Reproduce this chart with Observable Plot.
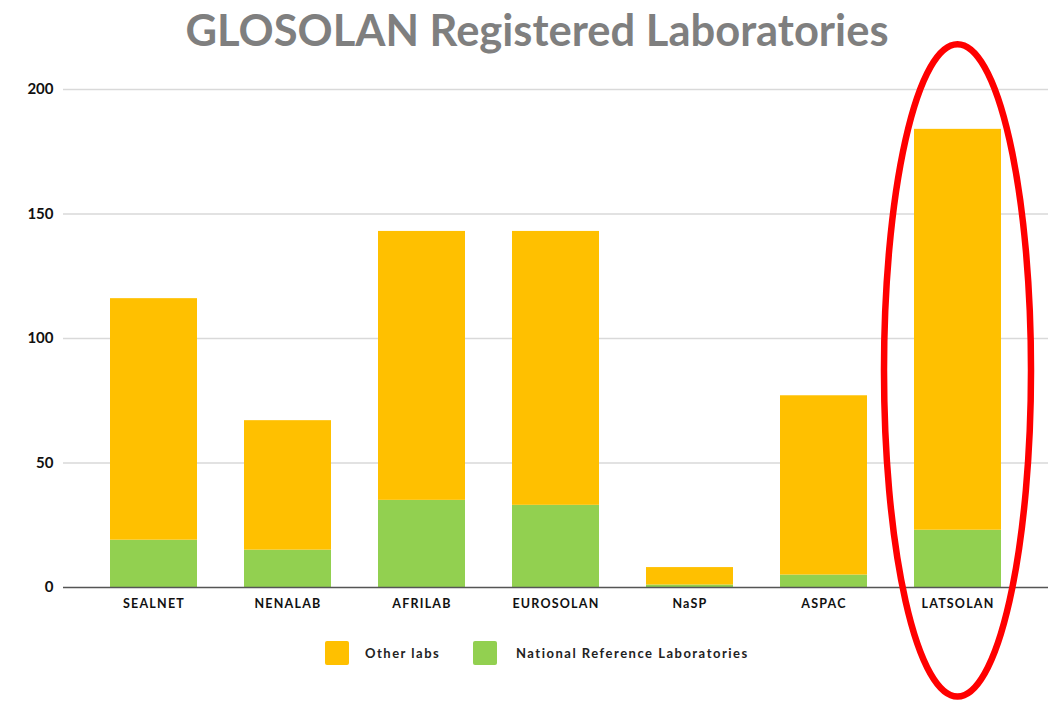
<!DOCTYPE html>
<html>
<head>
<meta charset="utf-8">
<script src="https://cdn.jsdelivr.net/npm/d3@7"></script>
<script src="https://cdn.jsdelivr.net/npm/@observablehq/plot@0.6"></script>
<style>
  html, body { margin: 0; padding: 0; background: #fff; }
  body { width: 1061px; height: 704px; overflow: hidden; font-family: Lato, "Open Sans", sans-serif; }
  #title { height: 60px; position: relative; }
  #title span { position: absolute; left: 537px; top: 3px; transform: translateX(-50%); white-space: nowrap;
    font-family: Lato, sans-serif; font-weight: 700; font-size: 43.5px; color: #7f7f7f; }
  #legend { height: 74px; position: relative; font-family: Lato, sans-serif; font-size: 13px; font-weight: 700; color: #222; letter-spacing: 1.5px; }
  .sw { position: absolute; top: 11px; width: 24px; height: 24px; border-radius: 2px; }
  .lt { position: absolute; top: 15px; white-space: nowrap; }
  #chart svg { overflow: visible; }
  #chart svg g[aria-label="x-axis tick label"] text { letter-spacing: 1.2px; }
</style>
</head>
<body>
<div id="title"><span>GLOSOLAN Registered Laboratories</span></div>
<div id="chart"></div>
<div id="legend"></div>
<script>
const categories = ["SEALNET", "NENALAB", "AFRILAB", "EUROSOLAN", "NaSP", "ASPAC", "LATSOLAN"];
const nationalRef = [19, 15, 35, 33, 1, 5, 23];
const otherLabs = [97, 52, 108, 110, 7, 72, 161];
const seriesNames = ["Other labs", "National Reference Laboratories"];
const seriesColors = ["#FFC000", "#92D050"];
const yTicks = [0, 50, 100, 150, 200];
const highlighted = "LATSOLAN";

const rows = [];
categories.forEach((c, i) => {
  rows.push({category: c, series: seriesNames[1], value: nationalRef[i]});
  rows.push({category: c, series: seriesNames[0], value: otherLabs[i]});
});

const plot = Plot.plot({
  width: 1061,
  height: 570,
  marginTop: 29,
  marginBottom: 43,
  marginLeft: 63,
  marginRight: 13,
  style: {fontFamily: "Lato, sans-serif", fontSize: "12px", fontWeight: 700, color: "#111", overflow: "visible"},
  x: {domain: categories, paddingInner: 0.35, paddingOuter: 0.35, label: null},
  y: {domain: [0, 200], label: null},
  color: {domain: seriesNames, range: seriesColors},
  marks: [
    Plot.ruleY(yTicks.filter(d => d > 0), {stroke: "#d9d9d9", strokeWidth: 1.5, strokeOpacity: 1}),
    Plot.barY(rows, {x: "category", y: "value", fill: "series", order: [seriesNames[1], seriesNames[0]]}),
    Plot.ruleY([0], {stroke: "#555", strokeWidth: 1.5}),
    Plot.axisX({tickSize: 0, tickPadding: 12, fontSize: 12.5, label: null}),
    Plot.axisY({ticks: yTicks, tickSize: 0, tickPadding: 10, fontSize: 15, label: null})
  ]
});
document.getElementById("chart").appendChild(plot);

// highlight ellipse around the LATSOLAN bar
const xs = plot.scale("x"), ys = plot.scale("y");
const cx = xs.apply(highlighted) + xs.bandwidth / 2;
const cy = ys.apply(87);
const rx = xs.bandwidth / 2 + 30;
const ry = ys.apply(0) - ys.apply(131);
d3.select(plot).append("ellipse")
  .attr("cx", cx).attr("cy", cy).attr("rx", rx).attr("ry", ry)
  .attr("fill", "none").attr("stroke", "#ff0000").attr("stroke-width", 6.5);

// legend
const legend = d3.select("#legend");
const legendX = [325, 473];
const textOffset = [40, 43];
seriesNames.forEach((s, i) => {
  legend.append("div").attr("class", "sw").style("left", legendX[i] + "px").style("background", seriesColors[i]);
  legend.append("div").attr("class", "lt").style("left", (legendX[i] + textOffset[i]) + "px").text(s);
});
</script>
</body>
</html>
